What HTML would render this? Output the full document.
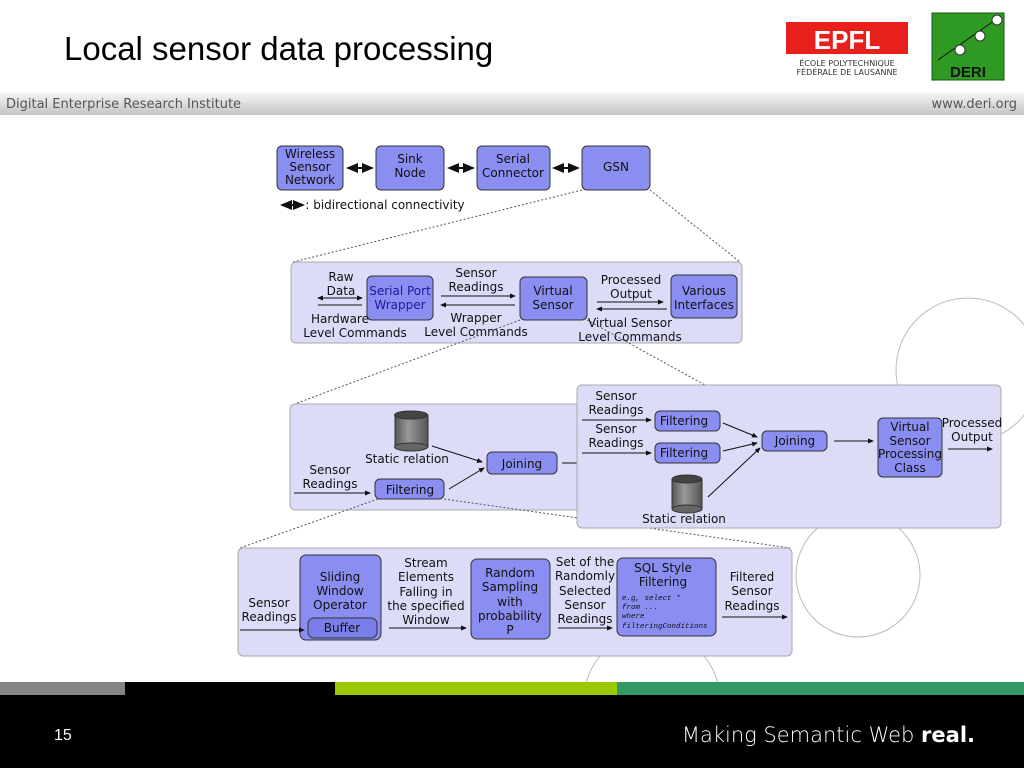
<!DOCTYPE html>
<html><head><meta charset="utf-8"><style>
html,body{margin:0;padding:0;width:1024px;height:768px;overflow:hidden;background:#fff;font-family:"Liberation Sans","DejaVu Sans",sans-serif}
</style></head><body>
<svg width="1024" height="768" viewBox="0 0 1024 768" xmlns="http://www.w3.org/2000/svg" font-family="DejaVu Sans, Liberation Sans, sans-serif">
<defs>
<linearGradient id="band" x1="0" y1="0" x2="0" y2="1"><stop offset="0" stop-color="#f4f4f4"/><stop offset="0.5" stop-color="#dcdcdc"/><stop offset="1" stop-color="#c4c4c4"/></linearGradient>
<linearGradient id="cyl" x1="0" y1="0" x2="1" y2="0"><stop offset="0" stop-color="#555"/><stop offset="0.4" stop-color="#999"/><stop offset="1" stop-color="#555"/></linearGradient>
<marker id="a" markerWidth="6" markerHeight="6" refX="5" refY="3" orient="auto"><path d="M0,0.5 L6,3 L0,5.5z" fill="#111"/></marker>
<marker id="as" markerWidth="6" markerHeight="6" refX="1" refY="3" orient="auto"><path d="M6,0.5 L0,3 L6,5.5z" fill="#111"/></marker>
</defs>
<text x="64" y="60" font-family="Liberation Sans, sans-serif" font-size="33" fill="#000">Local sensor data processing</text>
<rect x="786" y="22" width="122" height="32" fill="#e8201c"/>
<text x="847" y="49" font-family="Liberation Sans" font-size="26" font-weight="bold" fill="#fff" text-anchor="middle">EPFL</text>
<text x="847" y="66" font-size="8" fill="#333" text-anchor="middle">ÉCOLE POLYTECHNIQUE</text>
<text x="847" y="75" font-size="8" fill="#333" text-anchor="middle">FÉDÉRALE DE LAUSANNE</text>
<rect x="932" y="13" width="72" height="67" fill="#2f9a23" stroke="#145510"/>
<line x1="938" y1="60" x2="998" y2="18" stroke="#111" stroke-width="1"/>
<circle cx="960" cy="50" r="5" fill="#fff" stroke="#333"/><circle cx="980" cy="36" r="5" fill="#fff" stroke="#333"/><circle cx="997" cy="20" r="5" fill="#fff" stroke="#333"/>
<text x="968" y="77" font-family="Liberation Sans" font-size="15" font-weight="bold" fill="#111" text-anchor="middle">DERI</text>
<rect x="0" y="93" width="1024" height="22" fill="url(#band)"/>
<text x="6" y="108" font-size="13" fill="#555">Digital Enterprise Research Institute</text>
<text x="1017" y="108" font-size="13" fill="#555" text-anchor="end">www.deri.org</text>
<g fill="none" stroke="#bbb" stroke-width="1">
<circle cx="968" cy="370" r="72"/>
<circle cx="858" cy="575" r="62"/>
<circle cx="652" cy="700" r="68"/>
</g>
<g font-size="12" fill="#111" text-anchor="middle">
<g fill="#8a8ef0" stroke="#333">
<rect x="277" y="146" width="66" height="44" rx="5"/><rect x="376" y="146" width="68" height="44" rx="5"/>
<rect x="477" y="146" width="73" height="44" rx="5"/><rect x="582" y="146" width="68" height="44" rx="5"/>
</g>
<text x="310" y="158">Wireless</text><text x="310" y="171">Sensor</text><text x="310" y="184">Network</text>
<text x="410" y="163">Sink</text><text x="410" y="177">Node</text>
<text x="513" y="163">Serial</text><text x="513" y="177">Connector</text>
<text x="616" y="171">GSN</text>
<g stroke="#111" stroke-width="2" marker-start="url(#as)" marker-end="url(#a)">
<line x1="348" y1="168" x2="372" y2="168"/><line x1="449" y1="168" x2="473" y2="168"/><line x1="554" y1="168" x2="578" y2="168"/><line x1="282" y1="205" x2="303" y2="205"/>
</g>
<text x="385" y="209">: bidirectional connectivity</text>
<g stroke="#555" stroke-dasharray="2,2" fill="none">
<line x1="582" y1="190" x2="293" y2="262"/><line x1="650" y1="190" x2="740" y2="262"/>
</g>
<!-- panel 2 -->
<rect x="291" y="262" width="451" height="81" rx="5" fill="#dcdcf8" stroke="#aaa"/>
<g fill="#8a8ef0" stroke="#333">
<rect x="367" y="276" width="66" height="44" rx="5"/><rect x="520" y="277" width="67" height="43" rx="5"/><rect x="671" y="275" width="66" height="43" rx="5"/>
</g>
<text x="400" y="295" fill="#1a1aa0">Serial Port</text><text x="400" y="309" fill="#1a1aa0">Wrapper</text>
<text x="553" y="295">Virtual</text><text x="553" y="309">Sensor</text>
<text x="704" y="295">Various</text><text x="704" y="309">Interfaces</text>
<text x="341" y="281">Raw</text><text x="341" y="295">Data</text>
<text x="340" y="323">Hardware</text><text x="355" y="337">Level Commands</text>
<text x="476" y="277">Sensor</text><text x="476" y="291">Readings</text>
<text x="476" y="322">Wrapper</text><text x="476" y="336">Level Commands</text>
<text x="631" y="284">Processed</text><text x="631" y="298">Output</text>
<text x="630" y="327">Virtual Sensor</text><text x="630" y="341">Level Commands</text>
<g stroke="#111" stroke-width="1">
<line x1="318" y1="298" x2="362" y2="298" marker-end="url(#a)" marker-start="url(#as)"/>
<line x1="318" y1="305" x2="362" y2="305"/>
<line x1="441" y1="296" x2="515" y2="296" marker-end="url(#a)"/>
<line x1="515" y1="305" x2="441" y2="305" marker-end="url(#a)"/>
<line x1="597" y1="302" x2="663" y2="302" marker-end="url(#a)"/>
<line x1="667" y1="309" x2="597" y2="309" marker-end="url(#a)"/>
</g>
<g stroke="#555" stroke-dasharray="2,2" fill="none">
<line x1="520" y1="320" x2="292" y2="405"/><line x1="587" y1="320" x2="705" y2="385"/>
</g>
<!-- panel 3 left -->
<rect x="290" y="404" width="300" height="106" rx="5" fill="#dcdcf8" stroke="#aaa"/>
<g fill="#8a8ef0" stroke="#333">
<rect x="487" y="452" width="70" height="22" rx="5"/><rect x="375" y="479" width="69" height="20" rx="5"/>
</g>
<text x="522" y="468">Joining</text><text x="410" y="494">Filtering</text>
<rect x="395" y="415" width="33" height="32" fill="url(#cyl)" stroke="#333"/><ellipse cx="411" cy="415" rx="16.5" ry="4" fill="#444" stroke="#333"/><ellipse cx="411" cy="447" rx="16.5" ry="4" fill="#666" stroke="#333"/>
<text x="407" y="463">Static relation</text>
<text x="330" y="474">Sensor</text><text x="330" y="488">Readings</text>
<g stroke="#111" stroke-width="1" fill="none">
<line x1="294" y1="493" x2="370" y2="493" marker-end="url(#a)"/>
<line x1="432" y1="446" x2="482" y2="462" marker-end="url(#a)"/>
<line x1="449" y1="489" x2="484" y2="468" marker-end="url(#a)"/>
<line x1="562" y1="463" x2="578" y2="463"/>
</g>
<g stroke="#555" stroke-dasharray="2,2" fill="none">
<line x1="378" y1="499" x2="240" y2="548"/><line x1="444" y1="499" x2="790" y2="548"/>
</g>
<!-- panel 3 right -->
<rect x="577" y="385" width="424" height="143" rx="5" fill="#dcdcf8" stroke="#aaa"/>
<g fill="#8a8ef0" stroke="#333">
<rect x="655" y="411" width="65" height="20" rx="5"/><rect x="655" y="443" width="65" height="20" rx="5"/>
<rect x="762" y="431" width="65" height="20" rx="5"/><rect x="878" y="418" width="64" height="59" rx="5"/>
</g>
<text x="684" y="425">Filtering</text><text x="684" y="457">Filtering</text><text x="795" y="445">Joining</text>
<text x="910" y="431">Virtual</text><text x="910" y="445">Sensor</text><text x="910" y="458">Processing</text><text x="910" y="472">Class</text>
<text x="616" y="400">Sensor</text><text x="616" y="414">Readings</text>
<text x="616" y="433">Sensor</text><text x="616" y="447">Readings</text>
<text x="972" y="427">Processed</text><text x="972" y="441">Output</text>
<rect x="672" y="479" width="30" height="30" fill="url(#cyl)" stroke="#333"/><ellipse cx="687" cy="479" rx="15" ry="4" fill="#444" stroke="#333"/><ellipse cx="687" cy="509" rx="15" ry="4" fill="#666" stroke="#333"/>
<text x="684" y="523">Static relation</text>
<g stroke="#111" stroke-width="1" fill="none">
<line x1="582" y1="420" x2="651" y2="420" marker-end="url(#a)"/>
<line x1="582" y1="453" x2="651" y2="453" marker-end="url(#a)"/>
<line x1="723" y1="423" x2="757" y2="437" marker-end="url(#a)"/>
<line x1="723" y1="451" x2="757" y2="443" marker-end="url(#a)"/>
<line x1="708" y1="497" x2="760" y2="448" marker-end="url(#a)"/>
<line x1="834" y1="441" x2="873" y2="441" marker-end="url(#a)"/>
<line x1="948" y1="449" x2="992" y2="449" marker-end="url(#a)"/>
</g>
<!-- panel 4 -->
<rect x="238" y="548" width="554" height="108" rx="5" fill="#dcdcf8" stroke="#aaa"/>
<g fill="#8a8ef0" stroke="#333">
<rect x="300" y="555" width="81" height="85" rx="6"/><rect x="471" y="559" width="79" height="80" rx="6"/><rect x="617" y="558" width="99" height="78" rx="6"/>
</g>
<rect x="308" y="618" width="69" height="20" rx="6" fill="#7a7ee8" stroke="#333"/>
<text x="340" y="581">Sliding</text><text x="340" y="595">Window</text><text x="340" y="609">Operator</text><text x="342" y="632">Buffer</text>
<text x="510" y="577">Random</text><text x="510" y="591">Sampling</text><text x="510" y="606">with</text><text x="510" y="620">probability</text><text x="510" y="634">P</text>
<text x="663" y="572">SQL Style</text><text x="663" y="586">Filtering</text>
<g font-family="Liberation Mono, monospace" font-size="7.5" text-anchor="start" font-style="italic"><text x="622" y="600">e.g, select *</text><text x="622" y="609">from ...</text><text x="622" y="618">where</text><text x="622" y="628">filteringConditions</text></g>
<text x="269" y="607">Sensor</text><text x="269" y="621">Readings</text>
<text x="426" y="567">Stream</text><text x="426" y="581">Elements</text><text x="426" y="596">Falling in</text><text x="426" y="610">the specified</text><text x="426" y="624">Window</text>
<text x="585" y="566">Set of the</text><text x="585" y="580">Randomly</text><text x="585" y="595">Selected</text><text x="585" y="609">Sensor</text><text x="585" y="623">Readings</text>
<text x="752" y="581">Filtered</text><text x="752" y="595">Sensor</text><text x="752" y="610">Readings</text>
<g stroke="#111" stroke-width="1" fill="none">
<line x1="240" y1="630" x2="304" y2="630" marker-end="url(#a)"/>
<line x1="389" y1="628" x2="466" y2="628" marker-end="url(#a)"/>
<line x1="558" y1="628" x2="612" y2="628" marker-end="url(#a)"/>
<line x1="722" y1="617" x2="787" y2="617" marker-end="url(#a)"/>
</g>
</g>
<rect x="0" y="682" width="1024" height="86" fill="#000"/>
<rect x="0" y="682" width="125" height="13" fill="#858585"/>
<rect x="335" y="682" width="282" height="13" fill="#9ac900"/>
<rect x="617" y="682" width="407" height="13" fill="#339966"/>
<text x="54" y="740" font-family="Liberation Sans" font-size="16" fill="#fff">15</text>
<text x="975" y="742" font-family="DejaVu Sans" font-size="21" fill="#fff" text-anchor="end" font-weight="300">Making Semantic Web <tspan font-weight="bold">real.</tspan></text>
</svg>
</body></html>
